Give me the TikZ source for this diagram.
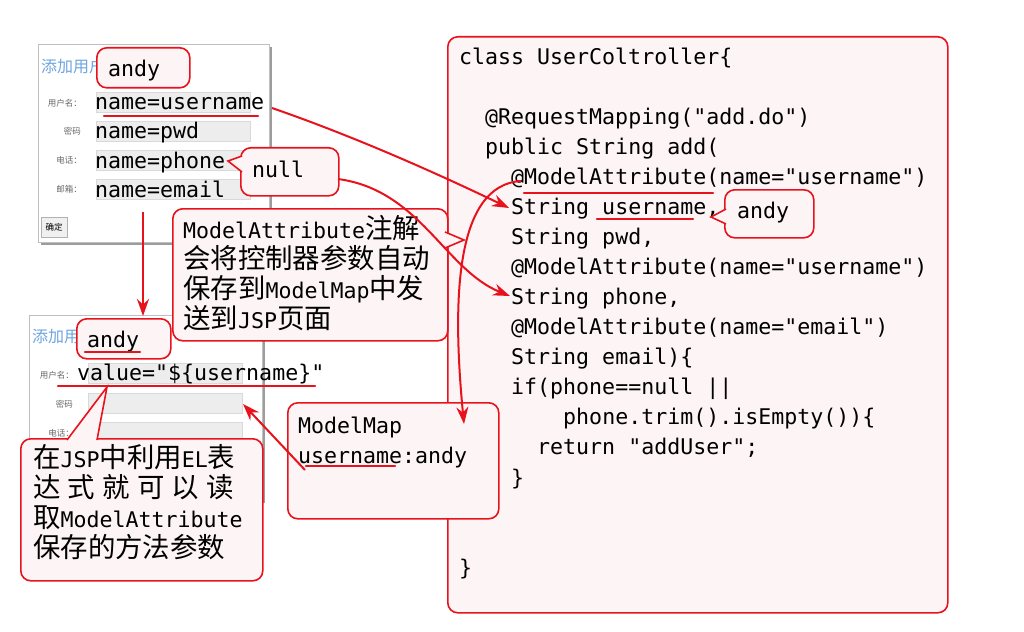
\documentclass[tikz,border=0pt]{standalone}
\usepackage{fontspec}
\setmonofont{DejaVu Sans Mono}
\newfontfamily\cjk[Scale=1.27]{Noto Sans CJK SC}
\newfontfamily\cjkui{Noto Sans CJK SC}
\usepackage{xcolor}
\usepackage{tikz}
\usetikzlibrary{positioning, arrows.meta, calc, shadows}
\definecolor{calloutred}{RGB}{232,18,28}
\definecolor{calloutpink}{RGB}{253,244,245}
\definecolor{titleblue}{RGB}{110,165,225}
\newcommand\wideblanks{\spaceskip=0.602em plus 1em\relax}
\tikzset{
  bubble/.style={
    rectangle,
    draw=calloutred,
    fill=calloutpink,
    line width=1.6pt,
    rounded corners=10pt,
    anchor=north west,
    inner sep=0pt
  },
  bubbletip/.style={
    draw=calloutred,
    fill=calloutpink,
    line width=1.6pt,
    line join=miter
  },
  codetext/.style={
    font=\fontsize{21.6}{30}\selectfont\ttfamily,
    inner sep=0pt,
    anchor=base west
  },
  formpanel/.style={
    rectangle,
    draw=black!25,
    fill=white,
    anchor=north west,
    drop shadow={shadow xshift=3pt, shadow yshift=-3pt, fill=black!55, opacity=.7}
  },
  formtitle/.style={
    font=\cjkui\fontsize{16}{18}\selectfont,
    text=titleblue,
    inner sep=0pt,
    anchor=west
  },
  formlabel/.style={
    font=\cjkui\fontsize{8.5}{10}\selectfont,
    text=black!60,
    inner sep=0pt,
    anchor=east
  },
  inputfield/.style={
    rectangle,
    draw=black!15,
    fill=black!7,
    minimum width=154pt,
    minimum height=20pt,
    anchor=north west,
    inner sep=0pt
  },
  formbutton/.style={
    rectangle,
    draw=black!30,
    fill=black!6,
    minimum width=26pt,
    minimum height=20pt,
    anchor=north west,
    inner sep=0pt,
    font=\cjkui\fontsize{8.5}{10}\selectfont
  },
  redarrow/.style={
    draw=calloutred,
    line width=2pt,
    -{Stealth[length=17pt, width=12pt]}
  },
  markline/.style={
    draw=calloutred,
    line width=2.2pt,
    line cap=round
  }
}

\begin{document}
\begin{tikzpicture}[x=1pt, y=-1pt]
  \useasboundingbox (0,0) rectangle (1024,631);
  \fill[white] (0,0) rectangle (1024,631);

  % controller code
  \node[bubble, minimum width=500pt, minimum height=576pt] (codepanel) at (447,36) {};
  \node[codetext, text width=480pt, align=left] (code) at (459,65) {\wideblanks
    class UserColtroller\{\\
    \mbox{}\\
    \phantom{xx}@RequestMapping("add.do")\\
    \phantom{xx}public String add(\\
    \phantom{xxxx}@ModelAttribute(name="username")\\
    \phantom{xxxx}String username,\\
    \phantom{xxxx}String pwd,\\
    \phantom{xxxx}@ModelAttribute(name="username")\\
    \phantom{xxxx}String phone,\\
    \phantom{xxxx}@ModelAttribute(name="email")\\
    \phantom{xxxx}String email)\{\\
    \phantom{xxxx}if(phone==null ||\\
    \phantom{xxxxxxxx}phone.trim().isEmpty())\{\\
    \phantom{xxxxxx}return "addUser";\\
    \phantom{xxxx}\}\\
    \mbox{}\\
    \mbox{}\\
    \}};

  % upper form
  \node[formpanel, minimum width=231pt, minimum height=198pt] (formA) at (38,44) {};
  \node[formtitle] (titleA) at (41,66) {添加用户};
  \node[inputfield] (fieldA1) at (96,92) {};
  \node[inputfield] (fieldA2) at (96,121) {};
  \node[inputfield] (fieldA3) at (96,150) {};
  \node[inputfield] (fieldA4) at (96,179) {};
  \node[formlabel] (labelA1) at (82,103) {用户名：};
  \node[formlabel] (labelA2) at (81,131) {密码};
  \node[formlabel] (labelA3) at (82,160) {电话：};
  \node[formlabel] (labelA4) at (82,189) {邮箱：};
  \node[formbutton] (okbtn) at (41,217) {确定};
  \node[codetext] (nameA1) at (95,110) {name=username};
  \node[codetext] (nameA2) at (95,139) {name=pwd};
  \node[codetext] (nameA3) at (95,168) {name=phone};
  \node[codetext] (nameA4) at (95,197) {name=email};

  % lower form
  \node[formpanel, minimum width=233pt, minimum height=185pt] (formB) at (29,315) {};
  \node[formtitle] (titleB) at (32,337) {添加用};
  \node[inputfield] (fieldB1) at (88,363) {};
  \node[inputfield] (fieldB2) at (88,393) {};
  \node[inputfield] (fieldB3) at (88,422) {};
  \node[formlabel] (labelB1) at (74,375) {用户名：};
  \node[formlabel] (labelB2) at (73,404) {密码};
  \node[formlabel] (labelB3) at (74,433) {电话：};
  \node[codetext] (valueB) at (77,380) {value="\$\{username\}"};

  % callouts
  \node[bubble, minimum width=93pt, minimum height=40pt] (andyA) at (96,47) {};
  \node[codetext] (andyAtext) at (108,77) {andy};

  \node[bubble, minimum width=98pt, minimum height=48pt] (nullbox) at (240,147) {};
  \draw[bubbletip] (242,156) -- (228,161) -- (242,172);
  \node[codetext] (nulltext) at (252,177) {null};

  \node[bubble, minimum width=94pt, minimum height=40pt] (andyB) at (76,318) {};
  \node[codetext] (andyBtext) at (87,347) {andy};

  \node[bubble, minimum width=89pt, minimum height=48pt] (andyC) at (724,189) {};
  \draw[bubbletip] (726,209) -- (711,217) -- (726,224);
  \node[codetext] (andyCtext) at (737,218) {andy};

  \node[bubble, minimum width=275pt, minimum height=132pt] (attrnote) at (172,208) {};
  \draw[bubbletip] (445,232) -- (464,240) -- (445,248);
  \node[codetext, text width=262pt, align=left] (attrtext) at (183,238) {%
    ModelAttribute{\cjk 注解}\\
    {\cjk 会将控制器参数自动}\\
    {\cjk 保存到}ModelMap{\cjk 中发}\\
    {\cjk 送到}JSP{\cjk 页面}};

  \node[bubble, minimum width=242pt, minimum height=142pt] (jspnote) at (20,438) {};
  \draw[bubbletip] (67,440) -- (107,387) -- (97,440);
  \node[codetext, text width=226pt, align=left] (jsptext) at (33,467) {%
    {\cjk 在}JSP{\cjk 中利用}EL{\cjk 表}\\
    \makebox[206pt][s]{\cjk 达 式 就 可 以 读}\\
    {\cjk 取}ModelAttribute\\
    {\cjk 保存的方法参数}};

  \node[bubble, minimum width=211pt, minimum height=116pt] (mmapbox) at (287,402) {};
  \node[codetext, text width=195pt, align=left] (mmaptext) at (298,433) {%
    ModelMap\\
    username:andy};

  % underlines
  \draw[markline] (104,116) -- (258,116);
  \draw[markline] (524,193) -- (713,193);
  \draw[markline] (597,219) -- (693,219);
  \draw[markline] (85,352) -- (140,352);
  \draw[markline] (58,386) -- (315,386);
  \draw[markline] (306,466) -- (395,466);

  % arrows
  \coordinate (srcA) at (272,108);
  \coordinate (dstA) at (509,208);
  \coordinate (srcB) at (338,179);
  \coordinate (dstB) at (510,296);
  \coordinate (srcC) at (521,181);
  \coordinate (dstC) at (464,424);
  \coordinate (srcD) at (143,212);
  \coordinate (dstD) at (143,316);
  \coordinate (srcE) at (305,470);
  \coordinate (dstE) at (243,404);
  \draw[redarrow] (srcA) .. controls (350,135) and (430,170) .. (dstA);
  \draw[redarrow] (srcB) .. controls (420,190) and (445,270) .. (dstB);
  \draw[redarrow] (srcC) .. controls (455,185) and (452,300) .. (dstC);
  \draw[redarrow] (srcD) -- (dstD);
  \draw[redarrow] (srcE) -- (dstE);
\end{tikzpicture}
\end{document}
